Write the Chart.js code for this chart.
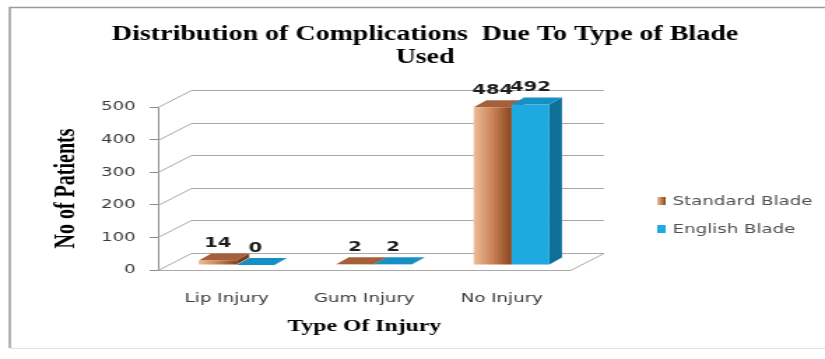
<!DOCTYPE html>
<html>
<head>
<meta charset="utf-8">
<title>Distribution of Complications Due To Type of Blade Used</title>
<script src="https://cdn.jsdelivr.net/npm/chart.js@4.4.1/dist/chart.umd.min.js"></script>
<style>
  html, body { margin: 0; padding: 0; background: #fff; }
  /* the original picture is stretched sideways, so the chart is drawn narrow and widened */
  #wrap { width: 590px; height: 359px; transform: scaleX(1.3983); transform-origin: 0 0; }
</style>
</head>
<body>
<div id="wrap"><canvas id="grafico" width="590" height="359"></canvas></div>
<script>
const categories = ["Lip Injury", "Gum Injury", "No Injury"];
const standardBlade = [14, 2, 484];
const englishBlade = [0, 2, 492];
const yTicks = [0, 100, 200, 300, 400, 500];

// fake 3D offsets (canvas px, before the sideways stretch)
const WALL = { dx: 24, dy: -17 };
const SHIFT = { dx: 7, dy: -5 };
const DEPTH = { dx: 9, dy: -7 };
const CAT_PCT = 0.55;

function standardFill(context) {
  const chart = context.chart;
  const area = chart.chartArea;
  if (!area || context.dataIndex === undefined) return "#b9764a";
  const w = (area.width / categories.length) * CAT_PCT / 2;
  const xc = chart.scales.x.getPixelForValue(context.dataIndex);
  const g = chart.ctx.createLinearGradient(xc - w, 0, xc, 0);
  g.addColorStop(0, "#eebd99");
  g.addColorStop(0.5, "#c98357");
  g.addColorStop(1, "#8a441c");
  return g;
}

const fake3d = {
  id: "fake3d",
  beforeDraw(chart) {
    const { ctx, width } = chart;
    ctx.save();
    ctx.fillStyle = "#fff";
    ctx.fillRect(0, 0, chart.width, chart.height);
    ctx.strokeStyle = "#9a9a9a";
    ctx.lineWidth = 1.5;
    ctx.beginPath();
    ctx.moveTo(7, 348);
    ctx.lineTo(7, 7.5);
    ctx.lineTo(width, 7.5);
    ctx.stroke();
    ctx.strokeStyle = "#e2e2e2";
    ctx.lineWidth = 1;
    ctx.beginPath();
    ctx.moveTo(7, 348.5);
    ctx.lineTo(width, 348.5);
    ctx.stroke();
    ctx.restore();
  },
  beforeDatasetsDraw(chart) {
    const { ctx, chartArea: a } = chart;
    const y = chart.scales.y;

    // back wall grid + floor
    ctx.save();
    ctx.strokeStyle = "#a9a9a9";
    ctx.lineWidth = 1;
    ctx.beginPath();
    yTicks.forEach(v => {
      const py = Math.round(y.getPixelForValue(v)) + 0.5;
      ctx.moveTo(a.left, py);
      ctx.lineTo(a.left + WALL.dx, py + WALL.dy);
      ctx.lineTo(a.right + WALL.dx, py + WALL.dy);
    });
    const b = Math.round(a.bottom) + 0.5;
    ctx.moveTo(a.left, b);
    ctx.lineTo(a.right, b);
    ctx.lineTo(a.right + WALL.dx, b + WALL.dy);
    ctx.stroke();
    ctx.restore();

    // side and top faces go behind the front faces Chart.js draws next
    ctx.save();
    ctx.translate(SHIFT.dx, SHIFT.dy);
    chart.data.datasets.forEach((ds, i) => {
      chart.getDatasetMeta(i).data.forEach(bar => {
        const p = bar.getProps(["x", "y", "base", "width"], true);
        const l = p.x - p.width / 2;
        const r = p.x + p.width / 2;
        ctx.fillStyle = ds.sideColor;
        ctx.beginPath();
        ctx.moveTo(r, p.y);
        ctx.lineTo(r + DEPTH.dx, p.y + DEPTH.dy);
        ctx.lineTo(r + DEPTH.dx, p.base + DEPTH.dy);
        ctx.lineTo(r, p.base);
        ctx.closePath();
        ctx.fill();
        ctx.fillStyle = ds.topColor;
        ctx.beginPath();
        ctx.moveTo(l, p.y);
        ctx.lineTo(l + DEPTH.dx, p.y + DEPTH.dy);
        ctx.lineTo(r + DEPTH.dx, p.y + DEPTH.dy);
        ctx.lineTo(r, p.y);
        ctx.closePath();
        ctx.fill();
      });
    });
  },
  afterDatasetsDraw(chart) {
    const ctx = chart.ctx;
    ctx.restore();

    // value labels
    ctx.save();
    ctx.font = "bold 14px 'DejaVu Sans'";
    ctx.fillStyle = "#1e1e1e";
    ctx.textAlign = "center";
    ctx.textBaseline = "bottom";
    chart.data.datasets.forEach((ds, i) => {
      chart.getDatasetMeta(i).data.forEach((bar, j) => {
        const p = bar.getProps(["x", "y"], true);
        ctx.fillText(String(ds.data[j]), p.x + SHIFT.dx, p.y + SHIFT.dy + DEPTH.dy - 3);
      });
    });
    ctx.restore();
  },
  afterDraw(chart) {
    // legend on the right
    const ctx = chart.ctx;
    const x0 = 470;
    const rows = [201, 229];
    ctx.save();
    ctx.font = "13px 'DejaVu Sans'";
    ctx.textBaseline = "middle";
    chart.data.datasets.forEach((ds, i) => {
      const yc = rows[i];
      if (i === 0) {
        const g = ctx.createLinearGradient(x0, 0, x0 + 6, 0);
        g.addColorStop(0, "#eebd99");
        g.addColorStop(1, "#8a441c");
        ctx.fillStyle = g;
      } else {
        ctx.fillStyle = ds.backgroundColor;
      }
      ctx.fillRect(x0, yc - 4, 6, 8);
      ctx.fillStyle = "#505050";
      ctx.fillText(ds.label, x0 + 11, yc + 1);
    });
    ctx.restore();
  }
};

new Chart(document.getElementById("grafico"), {
  type: "bar",
  data: {
    labels: categories,
    datasets: [
      {
        label: "Standard Blade",
        data: standardBlade,
        backgroundColor: standardFill,
        sideColor: "#7a3a16",
        topColor: "#a5603a"
      },
      {
        label: "English Blade",
        data: englishBlade,
        backgroundColor: "#1ea9e1",
        sideColor: "#0f6f97",
        topColor: "#1690c4"
      }
    ]
  },
  options: {
    responsive: false,
    devicePixelRatio: 1,
    animation: false,
    categoryPercentage: CAT_PCT,
    barPercentage: 1,
    layout: { padding: { left: 18, top: 8, right: 0, bottom: 8 } },
    plugins: {
      legend: { display: false },
      tooltip: { enabled: false },
      title: {
        display: true,
        text: ["Distribution of Complications  Due To Type of Blade", "Used"],
        color: "#000",
        font: { family: "'Liberation Serif'", size: 20, weight: "bold", lineHeight: 1.15 },
        padding: { top: 15, bottom: 38 }
      }
    },
    scales: {
      x: {
        grid: { display: false, drawTicks: false },
        border: { display: false },
        ticks: { padding: 21, color: "#3a3a3a", font: { family: "'DejaVu Sans'", size: 13 } },
        title: {
          display: true,
          text: "Type Of Injury",
          color: "#000",
          font: { family: "'Liberation Serif'", size: 17, weight: "bold" },
          padding: { top: 0, bottom: 14 }
        },
        afterFit: s => { s.height = 81; }
      },
      y: {
        min: 0,
        max: 500,
        afterBuildTicks: s => { s.ticks = yTicks.map(v => ({ value: v })); },
        ticks: { padding: 10, color: "#3a3a3a", font: { family: "'DejaVu Sans'", size: 13 } },
        grid: { drawOnChartArea: false, tickLength: 6, tickColor: "#8c8c8c" },
        border: { color: "#8c8c8c" },
        title: {
          display: true,
          text: "No of Patients",
          color: "#000",
          font: { family: "'Liberation Serif'", size: 20, weight: "bold" },
          padding: { top: 18, bottom: 0 }
        },
        afterFit: s => { s.width = 95; }
      },
      // empty strip on the right that leaves room for the legend
      gap: {
        type: "linear",
        position: "right",
        grid: { display: false },
        border: { display: false },
        ticks: { display: false },
        afterFit: s => { s.width = 182; }
      }
    }
  },
  plugins: [fake3d]
});
</script>
</body>
</html>
